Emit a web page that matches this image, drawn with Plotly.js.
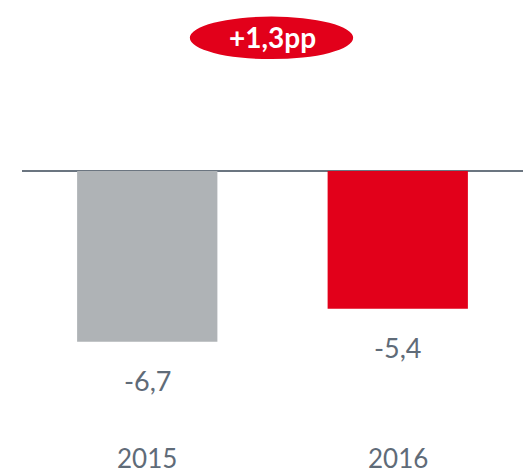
<!DOCTYPE html>
<html>
<head>
<meta charset="utf-8">
<script src="https://cdn.plot.ly/plotly-3.0.1.min.js"></script>
<style>html,body{margin:0;padding:0;background:#fff;}#chart{width:523px;height:473px;}</style>
</head>
<body>
<div id="chart"></div>
<script>
const categories = ["2015", "2016"];
const values = [-6.7, -5.4];
const valueLabels = ["-6,7", "-5,4"];
const barColors = ["#afb3b6", "#e2001a"];
const badgeText = "+1,3pp";

const textColor = "#5f6b78";
const font = "Lato, 'Open Sans', sans-serif";

const annotations = [];
categories.forEach((c, i) => {
  annotations.push({
    x: c, y: values[i], xref: "x", yref: "y",
    text: valueLabels[i], showarrow: false,
    yanchor: "top", yshift: -20,
    font: {family: font, size: 27, color: textColor}
  });
  annotations.push({
    x: c, y: 0.032, xref: "x", yref: "paper",
    text: c, showarrow: false, yanchor: "middle",
    font: {family: font, size: 26, color: textColor}
  });
});
annotations.push({
  x: 0.5, y: 0.921, xref: "paper", yref: "paper",
  text: "<b>" + badgeText + "</b>", showarrow: false,
  xanchor: "center", yanchor: "middle",
  font: {family: font, size: 28, color: "#ffffff"}
});

const data = [{
  type: "bar",
  x: categories,
  y: values,
  width: 0.56,
  marker: {color: barColors},
  hoverinfo: "none"
}];

const layout = {
  width: 523, height: 473,
  margin: {l: 22, r: 0, t: 0, b: 0},
  paper_bgcolor: "#ffffff", plot_bgcolor: "#ffffff",
  showlegend: false,
  xaxis: {showticklabels: false, showgrid: false, zeroline: false, showline: false, ticks: ""},
  yaxis: {range: [-302/25.5, 171/25.5], showticklabels: false, showgrid: false,
          zeroline: true, zerolinecolor: "#6b7580", zerolinewidth: 2, showline: false},
  shapes: [{
    type: "circle", xref: "paper", yref: "paper",
    x0: 0.335, x1: 0.661, y0: 0.875, y1: 0.965,
    fillcolor: "#e2001a", line: {width: 0}, layer: "below"
  }],
  annotations: annotations
};

Plotly.newPlot("chart", data, layout, {displayModeBar: false, staticPlot: true});
</script>
</body>
</html>
